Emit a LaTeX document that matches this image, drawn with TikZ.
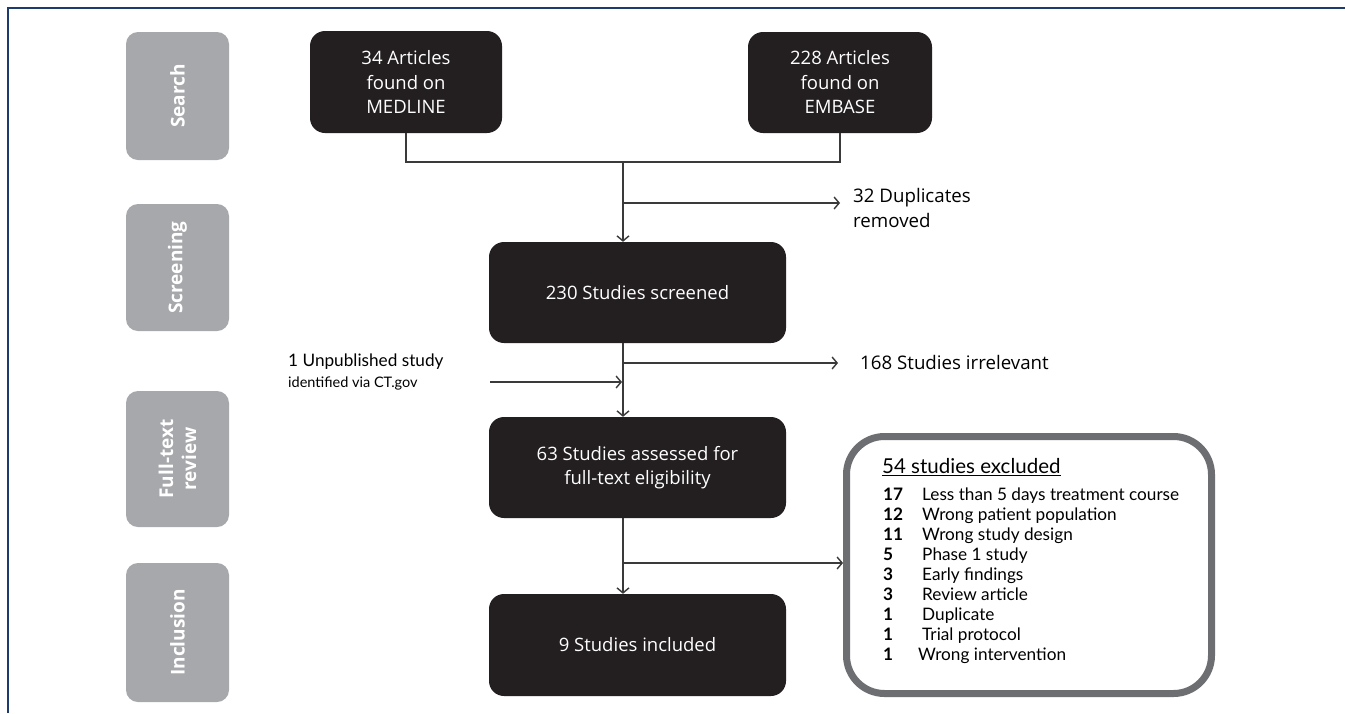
\documentclass[tikz,border=0pt]{standalone}
\usepackage{fontspec}
\setmainfont{Open Sans}
\newfontfamily\latofont{Lato}
\usetikzlibrary{arrows.meta,calc}
\definecolor{boxblack}{HTML}{231F20}
\definecolor{stagegrey}{HTML}{A7A8AB}
\definecolor{linegrey}{HTML}{3A3A3A}
\definecolor{bordergrey}{HTML}{6D6E71}
\definecolor{framenavy}{HTML}{1F3A6E}
\tikzset{
  stagebox/.style={fill=stagegrey, rounded corners=12pt, rotate=90, text=white,
    font=\bfseries\fontsize{19}{23}\selectfont, minimum height=103pt, align=center, inner sep=0pt},
  blackbox/.style={fill=boxblack, text=white, rounded corners=15pt, align=center,
    font=\fontsize{18.5}{24.5}\selectfont, inner sep=0pt},
  conn/.style={draw=linegrey, line width=1.4pt},
  arr/.style={conn, -{Straight Barb[length=5pt,width=12pt,line width=1.4pt]}},
  sidetext/.style={align=left, inner sep=0pt, anchor=west, font=\fontsize{18.7}{25}\selectfont},
}
\begin{document}
\begin{tikzpicture}[x=1pt,y=-1pt]
\useasboundingbox (0,0) rectangle (1345,713);
\fill[white] (0,0) rectangle (1345,713);
\draw[framenavy, line width=1.5pt] (8,713) -- (8,8) -- (1345,8);

% stage labels
\node[stagebox, minimum width=128pt] (search) at (177.5,96) {Search};
\node[stagebox, minimum width=127pt] (screening) at (177.5,267.5) {Screening};
\node[stagebox, minimum width=136pt] (fulltext) at (177.5,459) {Full-text\\review};
\node[stagebox, minimum width=139pt] (inclusion) at (177.5,632.5) {Inclusion};

% black boxes
\node[blackbox, minimum width=192pt, minimum height=102pt] (medline) at (406,82) {34 Articles\\found on\\MEDLINE};
\node[blackbox, minimum width=184pt, minimum height=101pt] (embase) at (840,82.5) {228 Articles\\found on\\EMBASE};
\node[blackbox, minimum width=297pt, minimum height=101pt] (screened) at (637.5,292.5) {230 Studies screened};
\node[blackbox, minimum width=297pt, minimum height=101pt] (assessed) at (637.5,467.5) {63 Studies assessed for\\full-text eligibility};
\node[blackbox, minimum width=297pt, minimum height=102pt] (included) at (637.5,645) {9 Studies included};

% excluded box
\node[draw=bordergrey, line width=7pt, rounded corners=38pt, minimum width=365pt, minimum height=257pt, inner sep=0pt] (excluded) at (1029,565) {};
\node[anchor=west, inner sep=0pt, font=\latofont\fontsize{20.5}{22}\selectfont] (extitle) at (882,467) {\underline{54 studies excluded}};
\node[anchor=north west, inner sep=0pt, align=left, font=\latofont\fontsize{17.2}{20}\selectfont] (exlist) at (883,488) {%
\makebox[39pt][l]{\bfseries 17}Less than 5 days treatment course\\
\makebox[39pt][l]{\bfseries 12}Wrong patient population\\
\makebox[39pt][l]{\bfseries 11}Wrong study design\\
\makebox[39pt][l]{\bfseries 5}Phase 1 study\\
\makebox[39pt][l]{\bfseries 3}Early findings\\
\makebox[39pt][l]{\bfseries 3}Review article\\
\makebox[39pt][l]{\bfseries 1}Duplicate\\
\makebox[39pt][l]{\bfseries 1}Trial protocol\\
\makebox[35pt][l]{\bfseries 1}Wrong intervention};

% side texts
\node[sidetext] (dup) at (853,208) {32 Duplicates\\removed};
\node[sidetext] (irr) at (860,362) {168 Studies irrelevant};
\node[anchor=west, inner sep=0pt, align=left, font=\latofont\fontsize{17.2}{21}\selectfont] (unpub) at (288,372) {1 Unpublished study\\{\fontsize{14.5}{17}\selectfont identified via CT.gov}};

% coordinates
\coordinate (jm) at (medline.south |- 0,162);
\coordinate (je) at (embase.south |- 0,162);
\coordinate (j1) at (623,162);
\coordinate (j2) at (623,203);
\coordinate (d1) at (840,203);
\coordinate (s1) at (623,343);
\coordinate (j3) at (623,363);
\coordinate (i1) at (838,363);
\coordinate (u0) at (490,382);
\coordinate (u1) at (622,382);
\coordinate (a1) at (623,518);
\coordinate (j4) at (623,563);

% connectors
\draw[conn] (medline.south) -- (jm) -- (je) -- (embase.south);
\draw[arr] (j1) -- (j1 |- screened.north);
\draw[arr] (j2) -- (d1);
\draw[arr] (s1) -- (s1 |- assessed.north);
\draw[arr] (j3) -- (i1);
\draw[arr] (u0) -- (u1);
\draw[arr] (a1) -- (a1 |- included.north);
\draw[arr] (j4) -- (j4 -| excluded.west);
\end{tikzpicture}
\end{document}
